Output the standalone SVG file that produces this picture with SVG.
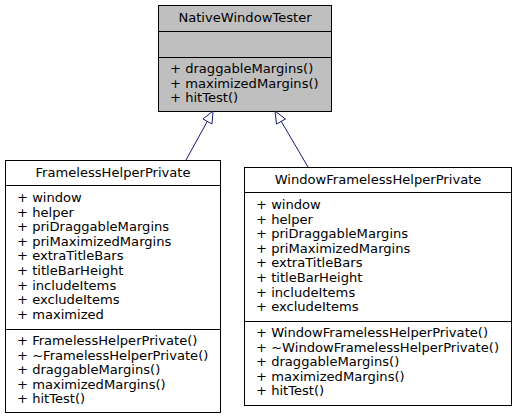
<svg xmlns="http://www.w3.org/2000/svg" width="517" height="419" viewBox="0 0 517 419">
<style>
text{font-family:"DejaVu Sans",sans-serif;font-size:13.1px;fill:#000}
.t{text-anchor:middle}
.box{fill:#fff;stroke:#000;stroke-width:1}
.base{fill:#bfbfbf;stroke:#000;stroke-width:1}
.sep{stroke:#000;stroke-width:1}
.edge{stroke:#191970;stroke-width:1;fill:none}
.head{fill:#fff;stroke:#191970;stroke-width:1}
</style>
<rect width="517" height="419" fill="#fff"/>
<g id="NativeWindowTester">
<rect class="base" x="158.5" y="5.5" width="173" height="106"/>
<line class="sep" x1="158.5" y1="31.5" x2="331.5" y2="31.5"/>
<line class="sep" x1="158.5" y1="57.5" x2="331.5" y2="57.5"/>
<text class="t" x="245" y="22">NativeWindowTester</text>
<text x="170" y="73">+ draggableMargins()</text>
<text x="170" y="87.6">+ maximizedMargins()</text>
<text x="170" y="102.2">+ hitTest()</text>
</g>
<g id="FramelessHelperPrivate">
<rect class="box" x="5.5" y="160.5" width="215" height="252"/>
<line class="sep" x1="5.5" y1="185.5" x2="220.5" y2="185.5"/>
<line class="sep" x1="5.5" y1="329.5" x2="220.5" y2="329.5"/>
<text class="t" x="113" y="177">FramelessHelperPrivate</text>
<text x="17" y="202">+ window</text>
<text x="17" y="216.6">+ helper</text>
<text x="17" y="231.2">+ priDraggableMargins</text>
<text x="17" y="245.8">+ priMaximizedMargins</text>
<text x="17" y="260.4">+ extraTitleBars</text>
<text x="17" y="275">+ titleBarHeight</text>
<text x="17" y="289.6">+ includeItems</text>
<text x="17" y="304.2">+ excludeItems</text>
<text x="17" y="318.8">+ maximized</text>
<text x="17" y="345">+ FramelessHelperPrivate()</text>
<text x="17" y="359.6">+ ~FramelessHelperPrivate()</text>
<text x="17" y="374.2">+ draggableMargins()</text>
<text x="17" y="388.8">+ maximizedMargins()</text>
<text x="17" y="403.4">+ hitTest()</text>
</g>
<g id="WindowFramelessHelperPrivate">
<rect class="box" x="244.5" y="167.5" width="267" height="238"/>
<line class="sep" x1="244.5" y1="192.5" x2="511.5" y2="192.5"/>
<line class="sep" x1="244.5" y1="321.5" x2="511.5" y2="321.5"/>
<text class="t" x="378" y="184">WindowFramelessHelperPrivate</text>
<text x="256" y="209">+ window</text>
<text x="256" y="223.6">+ helper</text>
<text x="256" y="238.2">+ priDraggableMargins</text>
<text x="256" y="252.8">+ priMaximizedMargins</text>
<text x="256" y="267.4">+ extraTitleBars</text>
<text x="256" y="282">+ titleBarHeight</text>
<text x="256" y="296.6">+ includeItems</text>
<text x="256" y="311.2">+ excludeItems</text>
<text x="256" y="337">+ WindowFramelessHelperPrivate()</text>
<text x="256" y="351.6">+ ~WindowFramelessHelperPrivate()</text>
<text x="256" y="366.2">+ draggableMargins()</text>
<text x="256" y="380.8">+ maximizedMargins()</text>
<text x="256" y="395.4">+ hitTest()</text>
</g>
<g id="connectors">
<line class="edge" x1="186" y1="160" x2="207.5" y2="121"/>
<polygon class="head" points="213,111 203,119 212,124"/>
<line class="edge" x1="308" y1="167" x2="281" y2="121"/>
<polygon class="head" points="275,111 276.5,124 285.5,119"/>
</g>
</svg>
